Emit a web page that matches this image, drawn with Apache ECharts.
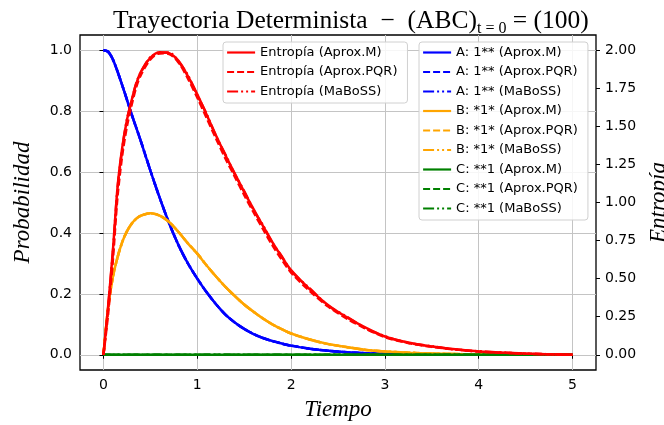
<!DOCTYPE html>
<html>
<head>
<meta charset="utf-8">
<script src="https://cdn.jsdelivr.net/npm/echarts@6/dist/echarts.min.js"></script>
<style>
  html, body { margin: 0; padding: 0; background: #fff; }
  #chart { width: 664px; height: 425px; }
</style>
</head>
<body>
<div id="chart"></div>
<script>
// tiempo (eje x)
const times = [0, 0.05, 0.1, 0.15, 0.2, 0.25, 0.3, 0.35, 0.4, 0.5, 0.6, 0.7, 0.8, 0.9, 1.0, 1.1, 1.2, 1.3, 1.4, 1.5,
  1.6, 1.7, 1.8, 1.9, 2.0, 2.2, 2.4, 2.6, 2.8, 3.0, 3.25, 3.5, 3.75, 4.0, 4.5, 5.0];

// probabilidades marginales (iguales en las tres aproximaciones)
const probA = [1.0, 0.995, 0.97, 0.93, 0.885, 0.838, 0.79, 0.745, 0.70, 0.605, 0.515, 0.432, 0.36, 0.30, 0.25, 0.205,
  0.166, 0.132, 0.106, 0.085, 0.068, 0.055, 0.045, 0.037, 0.03, 0.02, 0.013, 0.008, 0.005, 0.003, 0.002, 0.001,
  0.0007, 0.0004, 0.0001, 0];
const probB = [0, 0.155, 0.255, 0.32, 0.37, 0.405, 0.43, 0.447, 0.457, 0.465, 0.457, 0.436, 0.403, 0.366, 0.332, 0.293,
  0.257, 0.223, 0.193, 0.165, 0.141, 0.119, 0.1, 0.084, 0.07, 0.05, 0.035, 0.025, 0.016, 0.011, 0.007, 0.004,
  0.0025, 0.0015, 0.0006, 0.0002];
const probC = [0, 0, 0, 0, 0, 0, 0, 0, 0, 0, 0, 0, 0, 0, 0, 0, 0, 0, 0, 0,
  0, 0, 0, 0, 0, 0, 0, 0, 0, 0, 0, 0, 0, 0, 0, 0];

// entropía (eje derecho)
const entropyM = [0, 0.32, 0.68, 1.10, 1.36, 1.54, 1.67, 1.78, 1.86, 1.95, 1.986, 1.98, 1.93, 1.83, 1.71, 1.576,
  1.44, 1.31, 1.19, 1.07, 0.956, 0.846, 0.74, 0.644, 0.556, 0.43, 0.324, 0.244, 0.176, 0.12, 0.08, 0.054,
  0.036, 0.022, 0.008, 0];
const entropyPQR = [0, 0.27, 0.62, 1.04, 1.31, 1.50, 1.64, 1.76, 1.84, 1.94, 1.98, 1.975, 1.92, 1.815, 1.69, 1.555,
  1.42, 1.29, 1.17, 1.05, 0.936, 0.826, 0.72, 0.626, 0.54, 0.418, 0.315, 0.236, 0.17, 0.116, 0.077, 0.052,
  0.035, 0.021, 0.008, 0];
const entropyMaBoSS = [0, 0.31, 0.67, 1.09, 1.35, 1.545, 1.665, 1.785, 1.855, 1.955, 1.98, 1.985, 1.925, 1.835, 1.705,
  1.58, 1.435, 1.315, 1.185, 1.075, 0.95, 0.85, 0.735, 0.648, 0.55, 0.435, 0.32, 0.248, 0.172, 0.122, 0.078,
  0.056, 0.034, 0.023, 0.007, 0];

const xTicks = [0, 1, 2, 3, 4, 5];
const probTicks = [0, 0.2, 0.4, 0.6, 0.8, 1.0];
const entropyTicks = [0, 0.25, 0.5, 0.75, 1.0, 1.25, 1.5, 1.75, 2.0];

const methods = [
  { label: 'Aprox.M', type: 'solid' },
  { label: 'Aprox.PQR', type: [7, 3] },
  { label: 'MaBoSS', type: [11, 3, 2, 3, 2, 3] }
];
const nodes = [
  { name: 'A: 1**', color: '#0000ff', values: probA },
  { name: 'B: *1*', color: '#ffa500', values: probB },
  { name: 'C: **1', color: '#008000', values: probC }
];
const entropies = [entropyM, entropyPQR, entropyMaBoSS];

const zip = (xs, ys) => xs.map((x, i) => [x, ys[i]]);

const series = [];
const legendNodes = [];
nodes.forEach(n => {
  methods.forEach(m => {
    const name = n.name + ' (' + m.label + ')';
    legendNodes.push(name);
    series.push({
      name, type: 'line', yAxisIndex: 0, symbol: 'none', smooth: 0.3,
      data: zip(times, n.values), color: n.color,
      lineStyle: { color: n.color, width: 2.5, type: m.type }
    });
  });
});
const legendEntropy = [];
methods.forEach((m, i) => {
  const name = 'Entropía (' + m.label + ')';
  legendEntropy.push(name);
  series.push({
    name, type: 'line', yAxisIndex: 1, symbol: 'none', smooth: 0.3,
    data: zip(times, entropies[i]), color: '#ff0000',
    lineStyle: { color: '#ff0000', width: 2.5, type: m.type }
  });
});

const tickFont = { fontFamily: 'DejaVu Sans', fontSize: 14, color: '#000' };
const nameFont = { fontFamily: 'Liberation Serif', fontStyle: 'italic', fontSize: 23, color: '#000' };
// itemHeight pequeño: el símbolo del icono de leyenda casi desaparece, queda solo la línea
const legendBase = {
  orient: 'vertical', itemWidth: 28, itemHeight: 1, itemGap: 4.5, itemTextGap: 10,
  itemStyle: { opacity: 0 }, lineStyle: { width: 2.2 },
  backgroundColor: 'rgba(255,255,255,0.85)', borderColor: '#d0d0d0', borderWidth: 1, borderRadius: 3,
  padding: [3, 10, 4, 3],
  textStyle: { fontFamily: 'DejaVu Sans', fontSize: 13, lineHeight: 15, color: '#000' },
  selectedMode: false
};

const chart = echarts.init(document.getElementById('chart'), null, { renderer: 'canvas' });
chart.setOption({
  animation: false,
  backgroundColor: '#fff',
  title: {
    text: '{m|Trayectoria Determinista  −  (ABC)}{s|t = 0}{m| = (100)}',
    left: 108, top: 1,
    textStyle: {
      fontWeight: 'normal',
      rich: {
        m: { fontFamily: 'Liberation Serif', fontWeight: 'normal', fontSize: 25.5, color: '#000', lineHeight: 31 },
        s: { fontFamily: 'Liberation Serif', fontWeight: 'normal', fontSize: 16, color: '#000', lineHeight: 14, verticalAlign: 'bottom' }
      }
    }
  },
  grid: {
    left: 80, right: 68, top: 35, bottom: 55, outerBoundsMode: 'none',
    show: true, borderColor: '#000', borderWidth: 1.3
  },
  legend: [
    Object.assign({}, legendBase, { data: legendEntropy, left: 223, top: 42 }),
    Object.assign({}, legendBase, { data: legendNodes, left: 419, top: 42 })
  ],
  xAxis: {
    type: 'value', min: -0.25, max: 5.25,
    name: 'Tiempo', nameLocation: 'middle', nameGap: 28, nameTextStyle: nameFont,
    axisLine: { show: false },
    axisTick: { show: true, inside: false, length: 4, lineStyle: { color: '#000' }, customValues: xTicks },
    axisLabel: Object.assign({ margin: 8, customValues: xTicks, formatter: v => String(v) }, tickFont),
    splitLine: { show: true, lineStyle: { color: '#c4c4c4', width: 1 } }
  },
  yAxis: [
    {
      type: 'value', min: -0.05, max: 1.05,
      name: 'Probabilidad', nameLocation: 'middle', nameGap: 46, nameTextStyle: nameFont,
      axisLine: { show: false },
      axisTick: { show: true, inside: false, length: 4, lineStyle: { color: '#000' }, customValues: probTicks },
      axisLabel: Object.assign({ margin: 8, customValues: probTicks, formatter: v => v.toFixed(1) }, tickFont),
      splitLine: { show: true, lineStyle: { color: '#c4c4c4', width: 1 } }
    },
    {
      type: 'value', min: -0.1, max: 2.1, position: 'right',
      name: 'Entropía', nameLocation: 'middle', nameGap: 50, nameRotate: 90, nameTextStyle: nameFont,
      axisLine: { show: false },
      axisTick: { show: true, inside: false, length: 4, lineStyle: { color: '#000' }, customValues: entropyTicks },
      axisLabel: Object.assign({ margin: 9, customValues: entropyTicks, formatter: v => v.toFixed(2) }, tickFont),
      splitLine: { show: false }
    }
  ],
  series
});
</script>
</body>
</html>
